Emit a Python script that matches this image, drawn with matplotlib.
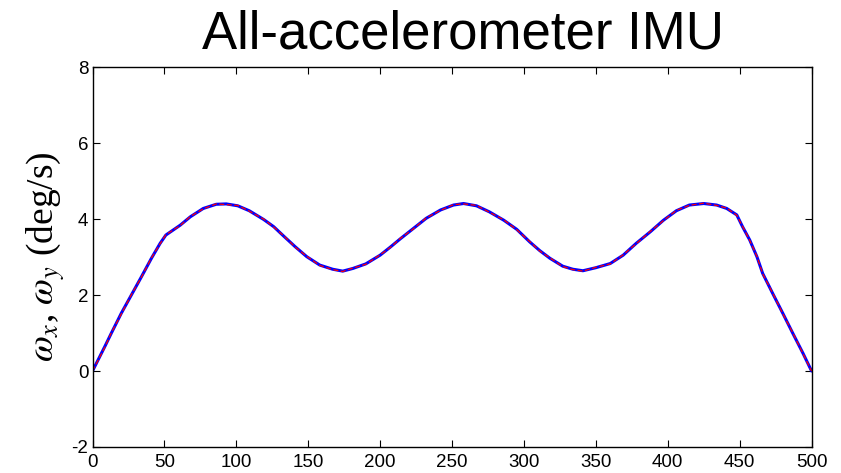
import matplotlib
matplotlib.use("Agg")
import matplotlib.pyplot as plt

# sample times and angular rates
t = [0, 8.5, 13, 20, 27, 34, 41, 47, 51, 61,
     68, 77, 86, 93, 101, 109, 119, 126, 133, 141,
     149, 158, 167, 174, 181, 190, 200, 207, 214, 223,
     232, 242, 251, 258, 267, 276, 286, 295, 304, 311,
     318, 327, 334, 341, 350, 360, 369, 378, 388, 397,
     406, 415, 425, 434, 441, 448, 452, 457, 462, 466,
     473, 480, 487, 494, 500]
omega_x = [0.0, 0.64, 0.99, 1.52, 2.00, 2.48, 2.97, 3.36, 3.58, 3.84,
           4.06, 4.28, 4.39, 4.40, 4.35, 4.22, 3.99, 3.80, 3.55, 3.27,
           3.01, 2.79, 2.68, 2.63, 2.70, 2.82, 3.05, 3.26, 3.48, 3.75,
           4.02, 4.24, 4.37, 4.41, 4.35, 4.19, 3.97, 3.73, 3.40, 3.17,
           2.97, 2.76, 2.68, 2.64, 2.72, 2.83, 3.05, 3.36, 3.67, 3.97,
           4.22, 4.37, 4.41, 4.37, 4.28, 4.11, 3.80, 3.45, 3.01, 2.57,
           2.04, 1.52, 0.99, 0.47, 0.0]
omega_y = [0.0, 0.62, 1.00, 1.50, 2.01, 2.47, 2.98, 3.35, 3.59, 3.83,
           4.07, 4.27, 4.40, 4.38, 4.36, 4.21, 4.00, 3.79, 3.56, 3.26,
           3.02, 2.78, 2.67, 2.62, 2.71, 2.81, 3.06, 3.25, 3.49, 3.74,
           4.03, 4.23, 4.38, 4.40, 4.36, 4.18, 3.98, 3.72, 3.41, 3.16,
           2.98, 2.75, 2.67, 2.63, 2.73, 2.82, 3.06, 3.35, 3.68, 3.96,
           4.23, 4.36, 4.42, 4.36, 4.29, 4.10, 3.81, 3.44, 3.02, 2.56,
           2.05, 1.51, 1.00, 0.46, 0.0]

xticks = [0, 50, 100, 150, 200, 250, 300, 350, 400, 450, 500]
yticks = [-2, 0, 2, 4, 6, 8]

plt.rcParams['mathtext.fontset'] = 'stix'
plt.rcParams['axes.unicode_minus'] = False

fig = plt.figure(figsize=(8.41, 4.73), dpi=100)
ax = fig.add_axes([0.110, 0.055, 0.855, 0.803])

ax.plot(t, omega_x, color='blue', lw=2.2, solid_capstyle='round')
ax.plot(t, omega_y, color='red', lw=0.9, ls=(0, (4, 2)))

ax.set_xlim(0, 500)
ax.set_ylim(-2, 8)
ax.set_xticks(xticks)
ax.set_yticks(yticks)
ax.tick_params(direction='in', length=5, width=0.8, top=True, right=True,
               labelsize=13.5, pad=3)
ax.tick_params(axis='x', pad=5)
for lab in ax.get_xticklabels() + ax.get_yticklabels():
    lab.set_family('Liberation Sans')
for s in ax.spines.values():
    s.set_linewidth(1.0)

fig.text(0.551, 0.897, 'All-accelerometer IMU', fontsize=38,
         family='Liberation Sans', ha='center', va='baseline')
ax.set_ylabel(r'$\omega_x$, $\omega_y$ (deg/s)', fontsize=27,
              family='Liberation Serif', labelpad=3)

fig.savefig('out.png', dpi=100)
